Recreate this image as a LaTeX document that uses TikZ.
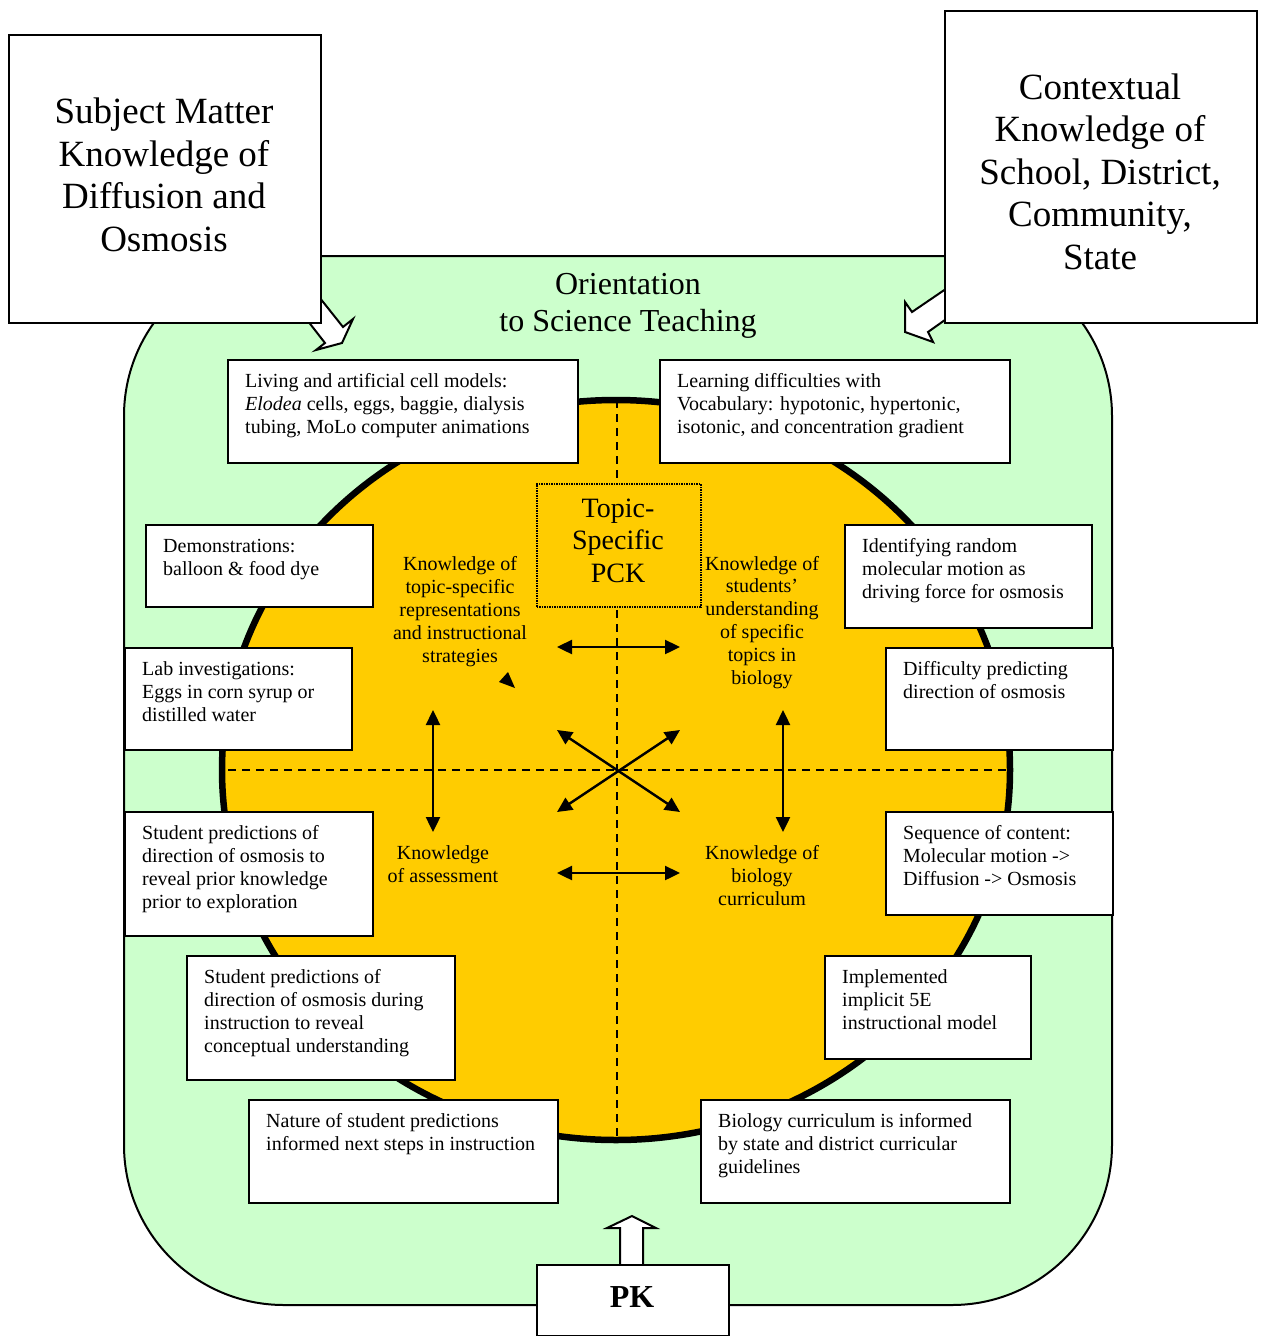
\documentclass[tikz,border=0pt]{standalone}
\usepackage{fontspec}
\setmainfont{Liberation Serif}
\usetikzlibrary{arrows.meta}
\definecolor{cellgreen}{HTML}{CCFFCC}
\definecolor{pckgold}{HTML}{FFCC00}
\begin{document}
\begin{tikzpicture}[x=1pt,y=-1pt,
  box/.style={draw, line width=1.6pt, fill=white, inner sep=0pt, anchor=north west},
  txt/.style={anchor=base west, align=left, inner sep=0pt, font=\fontsize{20}{23}\selectfont},
  ctr/.style={anchor=base, align=center, inner sep=0pt, font=\fontsize{20}{22.8}\selectfont},
  big/.style={anchor=base, align=center, inner sep=0pt, font=\fontsize{37}{42.5}\selectfont},
  dbl/.style={{Triangle[length=15pt,width=14pt]}-{Triangle[length=15pt,width=14pt]}, line width=2.4pt},
  divider/.style={dash pattern=on 8pt off 6pt, line width=2pt},
  hollow/.style={draw, fill=white, line width=2pt, line join=miter}
]
\useasboundingbox (0,0) rectangle (1262,1336);
\fill[white] (0,0) rectangle (1262,1336);
% cell (orientation)
\draw[fill=cellgreen, line width=2pt, rounded corners=160pt] (124,256) rectangle (1112,1305);
% PCK ellipse
\draw[fill=pckgold, line width=6.5pt] (616,770) ellipse [x radius=394pt, y radius=370pt];
% dividers
\coordinate (vt) at (617,400);
\coordinate (vb) at (617,1140);
\coordinate (hl) at (228,770);
\coordinate (hr) at (1006,770);
\draw[divider] (vt) -- (vb);
\draw[divider] (hl) -- (hr);
% arrows
\coordinate (h1a) at (557,647); \coordinate (h1b) at (680,647);
\coordinate (h2a) at (557,873); \coordinate (h2b) at (680,873);
\coordinate (v1a) at (433,710); \coordinate (v1b) at (433,832);
\coordinate (v2a) at (783,710); \coordinate (v2b) at (783,832);
\coordinate (d1a) at (557,730); \coordinate (d1b) at (680,812);
\coordinate (d2a) at (557,812); \coordinate (d2b) at (680,730);
\draw[dbl] (h1a) -- (h1b);
\draw[dbl] (h2a) -- (h2b);
\draw[dbl] (v1a) -- (v1b);
\draw[dbl] (v2a) -- (v2b);
\draw[dbl] (d1a) -- (d1b);
\draw[dbl] (d2a) -- (d2b);
\fill (499,682) -- (508,672) -- (515,688) -- cycle;
% topic-specific PCK
\node[draw, densely dotted, line width=1.5pt, fill=pckgold, minimum width=164pt, minimum height=123pt, anchor=north west, inner sep=0pt] (pck) at (536,483) {};
\node[anchor=base, align=center, inner sep=0pt, font=\fontsize{28}{32.5}\selectfont] (pcktext) at (618,582) {Topic-\\Specific\\PCK};
% centre texts (anchored at the baseline of their last line)
\node[ctr] (krep) at (460,662) {Knowledge of\\topic-specific\\representations\\and instructional\\strategies};
\node[ctr] (kstu) at (762,684) {Knowledge of\\students’\\understanding\\of specific\\topics in\\biology};
\node[ctr] (kass) at (443,882) {Knowledge\\of assessment};
\node[ctr] (kcur) at (762,905) {Knowledge of\\biology\\curriculum};
% hollow arrows
\draw[hollow] (308,283) -- (343,327) -- (353,319) -- (342,343) -- (316,350) -- (325,343) -- (297,307) -- cycle;
\draw[hollow] (959,280) -- (912,312) -- (905,302) -- (905,332) -- (933,342) -- (928,332) -- (959,310) -- cycle;
\draw[hollow] (620,1270) -- (620,1228) -- (607,1228) -- (632,1216) -- (656,1228) -- (643,1228) -- (643,1270) -- cycle;
% orientation label
\node[anchor=base, align=center, inner sep=0pt, font=\fontsize{32}{36.5}\selectfont] (orient) at (628,331) {Orientation\\to Science Teaching};
% outer boxes
\node[box, minimum width=312pt, minimum height=288pt] (subject) at (8,34) {};
\node[big] (subjecttext) at (164,251) {Subject Matter\\Knowledge of\\Diffusion and\\Osmosis};
\node[box, minimum width=312pt, minimum height=312pt] (context) at (944,10) {};
\node[big] (contexttext) at (1100,269) {Contextual\\Knowledge of\\School, District,\\Community,\\State};
% example boxes
\node[box, minimum width=350pt, minimum height=103pt] (living) at (227,359) {};
\node[txt] (livingtext) at (245,433) {Living and artificial cell models:\\\textit{Elodea} cells, eggs, baggie, dialysis\\tubing, MoLo computer animations};
\node[box, minimum width=350pt, minimum height=103pt] (learning) at (659,359) {};
\node[txt] (learningtext) at (677,433) {Learning difficulties with\\Vocabulary: hypotonic, hypertonic,\\isotonic, and concentration gradient};
\node[box, minimum width=227pt, minimum height=82pt] (demo) at (145,524) {};
\node[txt] (demotext) at (163,575) {Demonstrations:\\balloon \& food dye};
\node[box, minimum width=247pt, minimum height=103pt] (ident) at (844,524) {};
\node[txt] (identtext) at (862,598) {Identifying random\\molecular motion as\\driving force for osmosis};
\node[box, minimum width=227pt, minimum height=102pt] (lab) at (124,647) {};
\node[txt] (labtext) at (142,721) {Lab investigations:\\Eggs in corn syrup or\\distilled water};
\node[box, minimum width=227pt, minimum height=102pt] (diffic) at (885,647) {};
\node[txt] (diffictext) at (903,698) {Difficulty predicting\\direction of osmosis};
\node[box, minimum width=248pt, minimum height=124pt] (spredA) at (124,811) {};
\node[txt] (spredAtext) at (142,908) {Student predictions of\\direction of osmosis to\\reveal prior knowledge\\prior to exploration};
\node[box, minimum width=227pt, minimum height=103pt] (seq) at (885,811) {};
\node[txt] (seqtext) at (903,885) {Sequence of content:\\Molecular motion ->\\Diffusion -> Osmosis};
\node[box, minimum width=268pt, minimum height=124pt] (spredB) at (186,955) {};
\node[txt] (spredBtext) at (204,1052) {Student predictions of\\direction of osmosis during\\instruction to reveal\\conceptual understanding};
\node[box, minimum width=206pt, minimum height=103pt] (impl) at (824,955) {};
\node[txt] (impltext) at (842,1029) {Implemented\\implicit 5E\\instructional model};
\node[box, minimum width=309pt, minimum height=103pt] (nature) at (248,1099) {};
\node[txt] (naturetext) at (266,1150) {Nature of student predictions\\informed next steps in instruction};
\node[box, minimum width=309pt, minimum height=103pt] (bio) at (700,1099) {};
\node[txt] (biotext) at (718,1173) {Biology curriculum is informed\\by state and district curricular\\guidelines};
% PK
\node[box, minimum width=192pt, minimum height=71pt] (pk) at (536,1264) {};
\node[anchor=base, inner sep=0pt, font=\fontsize{32}{36}\selectfont\bfseries] (pktext) at (632,1307) {PK};
\end{tikzpicture}
\end{document}
